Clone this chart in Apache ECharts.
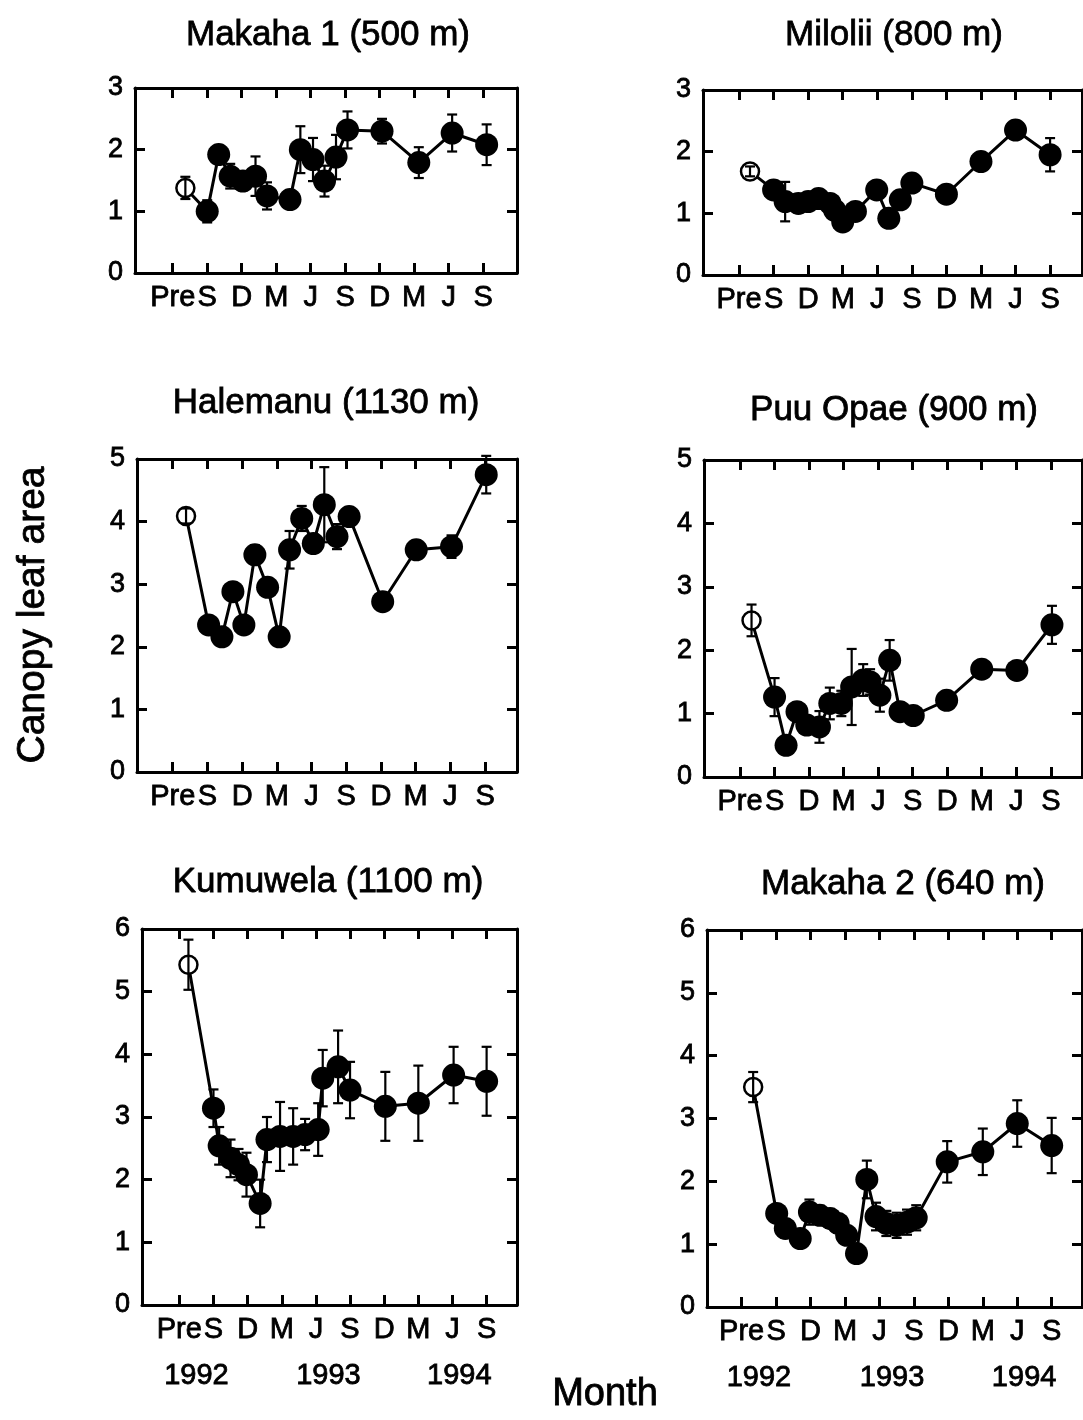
<!DOCTYPE html>
<html>
<head>
<meta charset="utf-8">
<script src="https://cdn.jsdelivr.net/npm/echarts@6/dist/echarts.min.js"></script>
<style>
  html, body { margin: 0; background: #fff; }
  #chart { width: 1083px; height: 1420px; }
</style>
</head>
<body>
<div id="chart"></div>
<script>
// x axis is months counted from Jun 1992 (0); quarterly ticks
const seasonTicks = [0, 3, 6, 9, 12, 15, 18, 21, 24, 27]
const seasonLabels = ['Pre', 'S', 'D', 'M', 'J', 'S', 'D', 'M', 'J', 'S']
const yearTicks = [1.5, 13.1, 24.6]
const yearLabels = ['1992', '1993', '1994']

// Makaha 1 (500 m)
const makaha1Month = [1.1, 3.0, 4.0, 5.0, 6.1, 7.2, 8.2, 10.2, 11.1, 12.2, 13.2, 14.2, 15.2, 18.2, 21.4, 24.3, 27.3]
const makaha1Lai = [1.38, 1.0, 1.92, 1.57, 1.49, 1.57, 1.25, 1.19, 2.0, 1.84, 1.49, 1.88, 2.32, 2.3, 1.79, 2.27, 2.08]
const makaha1Err = [0.18, 0.18, 0.1, 0.2, 0.15, 0.32, 0.22, 0.1, 0.38, 0.35, 0.25, 0.36, 0.3, 0.2, 0.25, 0.3, 0.33]

// Milolii (800 m)
const miloliiMonth = [0.95, 3.0, 4.0, 5.15, 6.0, 6.9, 7.9, 8.3, 9.0, 10.1, 11.95, 13.0, 14.0, 15.0, 18.0, 21.0, 24.0, 27.0]
const miloliiLai = [1.68, 1.38, 1.19, 1.16, 1.19, 1.24, 1.16, 1.05, 0.86, 1.03, 1.38, 0.92, 1.22, 1.49, 1.31, 1.84, 2.35, 1.95]
const miloliiErr = [0.08, 0.1, 0.32, 0.15, 0.12, 0.1, 0.1, 0.1, 0.08, 0.1, 0.1, 0.08, 0.1, 0.1, 0.08, 0.1, 0.12, 0.27]

// Halemanu (1130 m)
const halemanuMonth = [1.15, 3.1, 4.25, 5.2, 6.15, 7.1, 8.2, 9.2, 10.1, 11.15, 12.15, 13.1, 14.2, 15.25, 18.15, 21.05, 24.1, 27.1]
const halemanuLai = [4.09, 2.35, 2.16, 2.88, 2.35, 3.47, 2.95, 2.16, 3.55, 4.05, 3.65, 4.27, 3.76, 4.08, 2.72, 3.55, 3.6, 4.75]
const halemanuErr = [0.12, 0.1, 0.1, 0.1, 0.12, 0.15, 0.1, 0.12, 0.3, 0.2, 0.15, 0.6, 0.2, 0.1, 0.1, 0.1, 0.18, 0.3]

// Puu Opae (900 m)
const puuOpaeMonth = [1.0, 3.0, 4.0, 4.95, 5.8, 6.9, 7.8, 8.8, 9.7, 10.7, 11.3, 12.15, 13.0, 13.9, 15.05, 17.95, 21.0, 24.05, 27.1]
const puuOpaeLai = [2.47, 1.26, 0.5, 1.03, 0.82, 0.79, 1.16, 1.16, 1.42, 1.53, 1.5, 1.29, 1.84, 1.03, 0.97, 1.21, 1.7, 1.68, 2.4]
const puuOpaeErr = [0.25, 0.3, 0.1, 0.1, 0.1, 0.25, 0.25, 0.2, 0.6, 0.25, 0.2, 0.26, 0.32, 0.1, 0.1, 0.1, 0.1, 0.1, 0.3]

// Kumuwela (1100 m)
const kumuwelaMonth = [0.8, 3.0, 3.5, 4.5, 5.2, 5.9, 7.1, 7.7, 8.85, 10.0, 11.05, 12.2, 12.6, 13.95, 15.0, 18.1, 21.0, 24.1, 27.0]
const kumuwelaLai = [5.43, 3.14, 2.54, 2.34, 2.24, 2.08, 1.62, 2.64, 2.69, 2.69, 2.72, 2.8, 3.62, 3.8, 3.43, 3.17, 3.22, 3.67, 3.57]
const kumuwelaErr = [0.4, 0.3, 0.3, 0.3, 0.25, 0.35, 0.38, 0.36, 0.55, 0.45, 0.25, 0.42, 0.45, 0.58, 0.45, 0.55, 0.6, 0.45, 0.55]

// Makaha 2 (640 m)
const makaha2Month = [1.0, 3.05, 3.8, 5.1, 5.9, 6.8, 7.7, 8.4, 9.15, 10.0, 10.9, 11.7, 12.6, 13.5, 14.4, 15.2, 17.9, 21.0, 24.0, 27.0]
const makaha2Lai = [3.5, 1.49, 1.25, 1.09, 1.51, 1.46, 1.41, 1.33, 1.14, 0.85, 2.03, 1.44, 1.33, 1.3, 1.35, 1.42, 2.31, 2.47, 2.92, 2.57]
const makaha2Err = [0.24, 0.12, 0.15, 0.12, 0.2, 0.15, 0.15, 0.15, 0.12, 0.1, 0.3, 0.22, 0.2, 0.2, 0.2, 0.2, 0.33, 0.37, 0.37, 0.44]

const FONT = '"Liberation Sans", Arial, Helvetica, sans-serif'
const INK = '#000'
// slight outline so the glyphs look as heavy as the scanned print
const heavy = { textBorderColor: INK, textBorderWidth: 0.8 }

// layout of the six small panels
const panels = [
  { name: 'Makaha 1 (500 m)', month: makaha1Month, lai: makaha1Lai, err: makaha1Err, yMax: 3,
    box: [135, 88, 382, 185], xRange: [-3.28, 29.94], titleAt: [328, 35], years: false },
  { name: 'Milolii (800 m)', month: miloliiMonth, lai: miloliiLai, err: miloliiErr, yMax: 3,
    box: [703, 90, 379, 185], xRange: [-3.13, 29.77], titleAt: [894, 35], years: false },
  { name: 'Halemanu (1130 m)', month: halemanuMonth, lai: halemanuLai, err: halemanuErr, yMax: 5,
    box: [137, 459, 380, 313], xRange: [-3.09, 29.76], titleAt: [326, 403], years: false },
  { name: 'Puu Opae (900 m)', month: puuOpaeMonth, lai: puuOpaeLai, err: puuOpaeErr, yMax: 5,
    box: [704, 460, 378, 317], xRange: [-3.13, 29.71], titleAt: [894, 410], years: false },
  { name: 'Kumuwela (1100 m)', month: kumuwelaMonth, lai: kumuwelaLai, err: kumuwelaErr, yMax: 6,
    box: [142, 929, 375, 376], xRange: [-3.28, 29.67], titleAt: [328, 882], years: true },
  { name: 'Makaha 2 (640 m)', month: makaha2Month, lai: makaha2Lai, err: makaha2Err, yMax: 6,
    box: [707, 930, 375, 377], xRange: [-3.02, 29.64], titleAt: [903, 884], years: true },
]

const axisLine = { show: true, onZero: false, lineStyle: { color: INK, width: 3 } }
const tickStyle = { color: INK, width: 3 }

const grid = []
const xAxis = []
const yAxis = []
const series = []
const graphic = []

panels.forEach((p, i) => {
  grid.push({ left: p.box[0], top: p.box[1], width: p.box[2], height: p.box[3] })

  const xBase = {
    type: 'value', gridIndex: i, min: p.xRange[0], max: p.xRange[1],
    axisLine, splitLine: { show: false },
  }
  // bottom axis with season letters
  xAxis.push({
    ...xBase, position: 'bottom',
    axisTick: { inside: true, length: 10, lineStyle: tickStyle, customValues: seasonTicks },
    axisLabel: {
      customValues: seasonTicks, color: INK, fontSize: 29, fontFamily: FONT, margin: 10, ...heavy,
      formatter: (v) => seasonLabels[Math.round(v / 3)],
    },
  })
  // mirrored top axis
  xAxis.push({
    ...xBase, position: 'top',
    axisTick: { inside: true, length: 10, lineStyle: tickStyle, customValues: seasonTicks },
    axisLabel: { show: false },
  })
  const xBottom = xAxis.length - 2
  if (p.years) {
    xAxis.push({
      type: 'value', gridIndex: i, min: p.xRange[0], max: p.xRange[1],
      position: 'bottom', offset: 48,
      axisLine: { show: false }, axisTick: { show: false }, splitLine: { show: false },
      axisLabel: {
        customValues: yearTicks, color: INK, fontSize: 29, fontFamily: FONT, margin: 8, ...heavy,
        formatter: (v) => yearLabels[yearTicks.indexOf(v)],
      },
    })
  }

  const yBase = {
    type: 'value', gridIndex: i, min: 0, max: p.yMax, interval: 1,
    axisLine, splitLine: { show: false },
    axisTick: { inside: true, length: 10, lineStyle: tickStyle },
  }
  yAxis.push({
    ...yBase, position: 'left',
    axisLabel: { color: INK, fontSize: 27, fontFamily: FONT, margin: 12, ...heavy },
  })
  yAxis.push({ ...yBase, position: 'right', axisLabel: { show: false } })
  const yLeft = yAxis.length - 2

  const pts = p.month.map((m, j) => [m, p.lai[j]])
  series.push({
    type: 'line', xAxisIndex: xBottom, yAxisIndex: yLeft,
    symbol: 'circle', symbolSize: 23, z: 2,
    lineStyle: { color: INK, width: 3 },
    itemStyle: { color: INK },
    // first value (pre-sampling) is the open circle
    data: pts.map((d, j) => j === 0
      ? { value: d, symbolSize: 18, itemStyle: { color: '#fff', borderColor: INK, borderWidth: 2.5 } }
      : d),
  })
  series.push({
    type: 'custom', xAxisIndex: xBottom, yAxisIndex: yLeft, z: 3,
    data: p.month.map((m, j) => [m, p.lai[j], p.err[j]]),
    encode: { x: 0, y: 1 },
    renderItem: (params, api) => {
      const x = api.value(0)
      const y = api.value(1)
      const e = api.value(2)
      const hi = api.coord([x, y + e])
      const lo = api.coord([x, y - e])
      const w = 5
      const style = { stroke: INK, lineWidth: 2.2 }
      return {
        type: 'group',
        children: [
          { type: 'line', shape: { x1: hi[0], y1: hi[1], x2: lo[0], y2: lo[1] }, style },
          { type: 'line', shape: { x1: hi[0] - w, y1: hi[1], x2: hi[0] + w, y2: hi[1] }, style },
          { type: 'line', shape: { x1: lo[0] - w, y1: lo[1], x2: lo[0] + w, y2: lo[1] }, style },
        ],
      }
    },
  })

  graphic.push({
    type: 'text', x: p.titleAt[0], y: p.titleAt[1],
    style: {
      text: p.name, fill: INK, fontSize: 35, fontFamily: FONT, textAlign: 'center', textVerticalAlign: 'middle',
      stroke: INK, lineWidth: 0.8,
    },
  })
})

graphic.push({
  type: 'text', x: 33, y: 615, rotation: Math.PI / 2,
  style: {
    text: 'Canopy leaf area', fill: INK, fontSize: 39, fontFamily: FONT, textAlign: 'center', textVerticalAlign: 'middle',
    stroke: INK, lineWidth: 0.8,
  },
})
graphic.push({
  type: 'text', x: 605, y: 1395,
  style: {
    text: 'Month', fill: INK, fontSize: 38, fontFamily: FONT, textAlign: 'center', textVerticalAlign: 'middle',
    stroke: INK, lineWidth: 0.8,
  },
})

const chart = echarts.init(document.getElementById('chart'))
chart.setOption({
  animation: false,
  backgroundColor: '#fff',
  grid, xAxis, yAxis, series, graphic,
})
</script>
</body>
</html>
